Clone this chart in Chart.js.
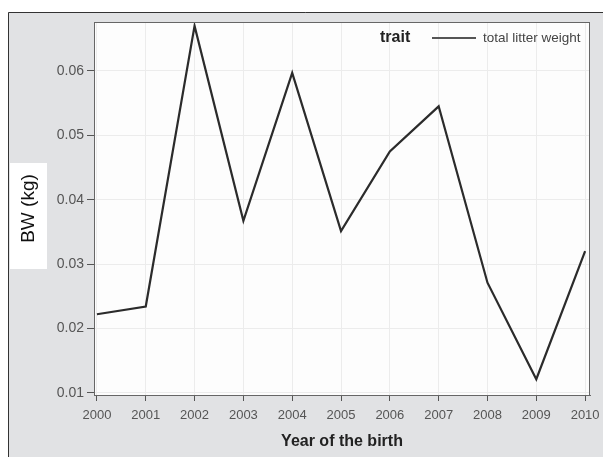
<!DOCTYPE html>
<html>
<head>
<meta charset="utf-8">
<script src="https://cdn.jsdelivr.net/npm/chart.js@4"></script>
<style>
  html, body { margin: 0; padding: 0; background: #fff; }
  canvas { display: block; }
</style>
</head>
<body>
<canvas id="bwChart" width="603" height="457"></canvas>
<script>
// BW by birth year, total litter weight
const years = [2000, 2001, 2002, 2003, 2004, 2005, 2006, 2007, 2008, 2009, 2010];
const litterWeight = [0.0222, 0.0234, 0.0670, 0.0367, 0.0597, 0.0351, 0.0475, 0.0545, 0.0271, 0.0121, 0.0320];
const yTicks = [0.01, 0.02, 0.03, 0.04, 0.05, 0.06];
const legendTitle = 'trait';
const seriesName = 'total litter weight';

const FONT = '"Liberation Sans", Arial, sans-serif';

// gray frame, white plot area, label box behind the y title
const framePlugin = {
  id: 'frame',
  beforeDraw(chart) {
    const { ctx, chartArea: a } = chart;
    ctx.save();
    ctx.fillStyle = '#e1e2e4';
    ctx.fillRect(8, 12, chart.width, chart.height);
    ctx.strokeStyle = '#333';
    ctx.lineWidth = 1;
    ctx.beginPath();
    ctx.moveTo(8.5, chart.height);
    ctx.lineTo(8.5, 12.5);
    ctx.lineTo(chart.width, 12.5);
    ctx.stroke();
    ctx.fillStyle = '#fdfdfd';
    ctx.fillRect(a.left, a.top, a.right - a.left, a.bottom - a.top);
    ctx.fillStyle = '#fff';
    ctx.fillRect(10, 163, 37, 106);
    ctx.restore();
  },
  afterDraw(chart) {
    const { ctx, chartArea: a } = chart;
    ctx.save();
    ctx.strokeStyle = '#666';
    ctx.lineWidth = 1;
    ctx.strokeRect(a.left + 0.5, a.top + 0.5, a.right - a.left - 1, a.bottom - a.top);
    ctx.restore();
  }
};

// legend in the top right corner: bold group title, line sample, series name
const cornerLegend = {
  id: 'cornerLegend',
  afterDraw(chart) {
    const { ctx } = chart;
    const ds = chart.data.datasets[0];
    const y = 38;
    ctx.save();
    ctx.textBaseline = 'middle';
    ctx.fillStyle = '#222';
    ctx.font = 'bold 16px ' + FONT;
    ctx.fillText(legendTitle, 380, y);
    ctx.strokeStyle = '#555';
    ctx.lineWidth = 2;
    ctx.beginPath();
    ctx.moveTo(432, y);
    ctx.lineTo(476, y);
    ctx.stroke();
    ctx.fillStyle = '#444';
    ctx.font = '13.5px ' + FONT;
    ctx.fillText(ds.label, 483, y);
    ctx.restore();
  }
};

new Chart(document.getElementById('bwChart'), {
  type: 'line',
  data: {
    datasets: [{
      label: seriesName,
      data: years.map((x, i) => ({ x, y: litterWeight[i] })),
      borderColor: '#2b2b2b',
      borderWidth: 2.2,
      pointRadius: 0,
      tension: 0,
      fill: false
    }]
  },
  options: {
    responsive: false,
    animation: false,
    devicePixelRatio: 1,
    layout: { padding: { top: 22, right: 13, left: 0, bottom: 0 } },
    plugins: { legend: { display: false }, tooltip: { enabled: false } },
    scales: {
      x: {
        type: 'linear',
        min: 1999.94,
        max: 2010.1,
        afterFit(scale) {
          scale.height = 62;
          // edge labels may overhang into the layout padding
          scale.paddingLeft = 0;
          scale.paddingRight = 0;
        },
        afterBuildTicks(scale) { scale.ticks = years.map(v => ({ value: v })); },
        ticks: {
          color: '#555',
          font: { family: FONT, size: 13 },
          padding: 7,
          maxRotation: 0,
          autoSkip: false,
          callback: v => String(v)
        },
        grid: { color: '#ececec', tickColor: '#555', tickLength: 6 },
        border: { color: '#666' },
        title: {
          display: true,
          text: 'Year of the birth',
          color: '#222',
          font: { family: FONT, size: 16, weight: 'bold' },
          padding: { top: 0, bottom: 6 }
        }
      },
      y: {
        type: 'linear',
        min: 0.00965,
        max: 0.0676,
        afterFit(scale) { scale.width = 94; },
        afterBuildTicks(scale) { scale.ticks = yTicks.map(v => ({ value: v })); },
        ticks: {
          color: '#555',
          font: { family: FONT, size: 14 },
          padding: 3,
          callback: v => v.toFixed(2)
        },
        grid: { color: '#ececec', tickColor: '#555', tickLength: 7 },
        border: { color: '#666' },
        title: {
          display: true,
          text: 'BW (kg)',
          color: '#111',
          font: { family: FONT, size: 19 },
          padding: { top: 17, bottom: 0 }
        }
      }
    }
  },
  plugins: [framePlugin, cornerLegend]
});
</script>
</body>
</html>
